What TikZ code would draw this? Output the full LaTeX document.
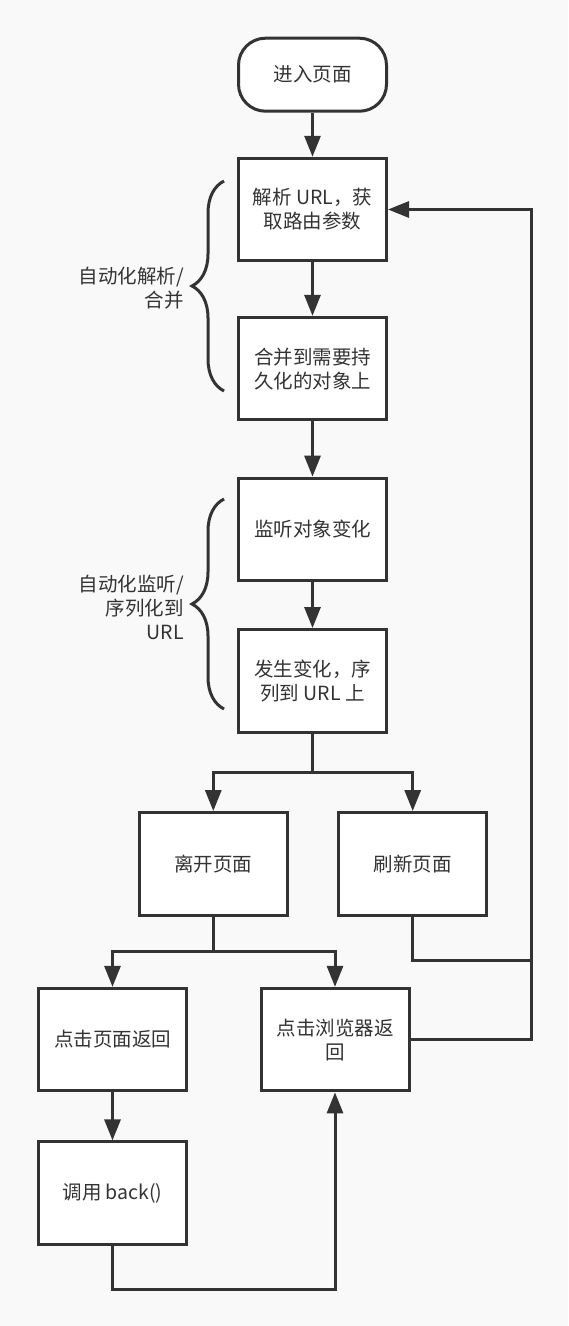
\documentclass[tikz,border=0pt]{standalone}
\usepackage{fontspec}
\setmainfont{Noto Sans CJK SC}
\usepackage{tikz}
\usepackage{xcolor}
\usetikzlibrary{arrows.meta,decorations.pathreplacing}
\definecolor{ink}{RGB}{51,51,51}
\definecolor{canvas}{RGB}{249,249,249}
\tikzstyle{arrow} = [
    line width=3pt,
    -{Triangle[length=21pt,width=16pt]},
    draw=ink
]
\tikzstyle{link} = [
    line width=3pt,
    draw=ink
]
\tikzstyle{process} = [
    rectangle,
    minimum width=148pt,
    minimum height=102.5pt,
    align=center,
    draw=ink,
    line width=3pt,
    fill=white,
    text=ink,
    font=\fontsize{19.5}{24}\selectfont
]
\tikzstyle{terminal} = [
    process,
    rounded corners=27pt,
    minimum height=73pt
]
\tikzstyle{bracket} = [
    line width=3pt,
    draw=ink,
    decorate,
    decoration={brace, amplitude=32pt}
]
\tikzstyle{note} = [
    anchor=east,
    align=right,
    text=ink,
    inner sep=0pt,
    font=\fontsize{19.5}{24}\selectfont
]

\begin{document}
\begin{tikzpicture}[x=1pt, y=-1pt]
    \fill[canvas] (0,0) rectangle (568,1326);
    \useasboundingbox (0,0) rectangle (568,1326);

    % main column
    \node[terminal] (enter) at (312.5,74.7) {进入页面};
    \node[process] (parse) at (312.5,209.5) {解析 URL，获\\取路由参数};
    \node[process] (merge) at (312.5,368.6) {合并到需要持\\久化的对象上};
    \node[process] (watch) at (312.5,529.4) {监听对象变化};
    \node[process] (serialize) at (312.5,680.8) {发生变化，序\\列到 URL 上};

    % branches
    \node[process] (leave) at (213.3,863.8) {离开页面};
    \node[process] (refresh) at (412.7,863.8) {刷新页面};
    \node[process] (pageback) at (112.5,1039.6) {点击页面返回};
    \node[process] (browserback) at (335,1039.6) {点击浏览器返\\回};
    \node[process] (callback) at (112.5,1193.2) {调用 back()};

    % braces and their notes
    \draw[bracket] (224,391) -- (224,181);
    \node[note] (noteparse) at (184,288) {自动化解析/\\合并};
    \draw[bracket] (224,709) -- (224,499);
    \node[note] (notewatch) at (184,607) {自动化监听/\\序列化到\\URL};

    % bends
    \coordinate (forkA) at (312.5,772.5);
    \coordinate (forkB) at (213.3,951.5);
    \coordinate (floor) at (112.5,1289.6);
    \coordinate (rejoin) at (531.7,960.8);
    \coordinate (looptop) at (531.7,209.5);

    \draw[arrow] (enter) -- (parse);
    \draw[arrow] (parse) -- (merge);
    \draw[arrow] (merge) -- (watch);
    \draw[arrow] (watch) -- (serialize);
    \draw[link] (serialize) -- (forkA);
    \draw[arrow] (forkA) -| (leave);
    \draw[arrow] (forkA) -| (refresh);
    \draw[link] (leave) -- (forkB);
    \draw[arrow] (forkB) -| (pageback);
    \draw[arrow] (forkB) -| (browserback);
    \draw[arrow] (pageback) -- (callback);
    \draw[arrow] (callback) -- (floor) -| (browserback);
    \draw[link] (refresh) |- (rejoin);
    \draw[arrow] (browserback) -| (looptop) -- (parse);
\end{tikzpicture}
\end{document}
